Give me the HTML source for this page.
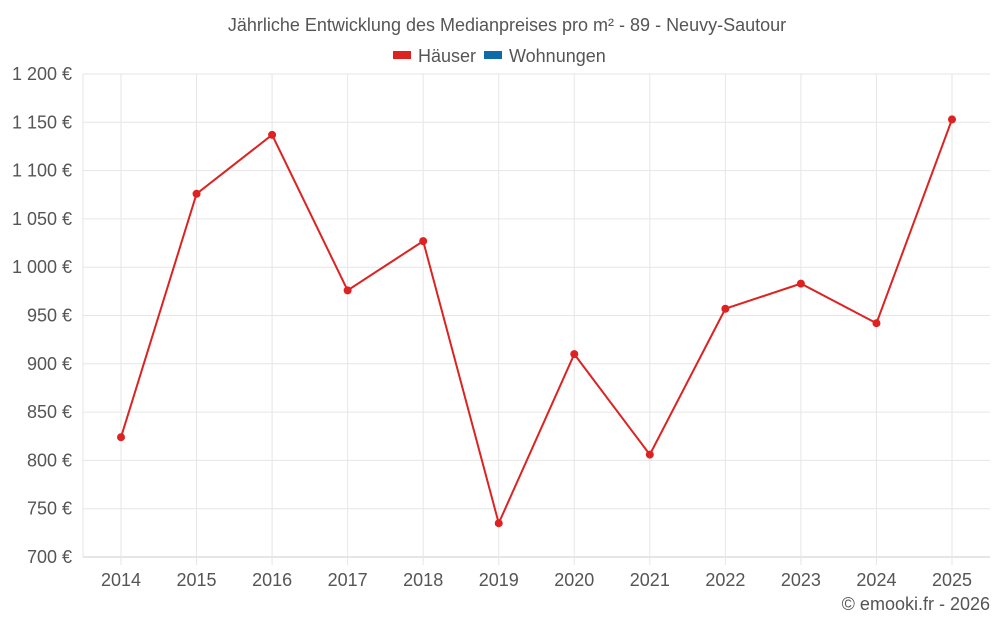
<!DOCTYPE html>
<html><head><meta charset="utf-8"><style>
body{margin:0;background:#fff;font-family:"Liberation Sans",sans-serif;}
svg text{font-family:"Liberation Sans",sans-serif;fill:#555;}
</style></head><body>
<svg width="1000" height="625">
<text x="507" y="31" text-anchor="middle" font-size="18">Jährliche Entwicklung des Medianpreises pro m² - 89 - Neuvy-Sautour</text>
<g>
<g><rect x="393" y="51" width="18" height="8" fill="#dd2222"/><text x="418" y="62" font-size="18">Häuser</text></g>
<g><rect x="484" y="51" width="18" height="8" fill="#0f6aa8"/><text x="509" y="62" font-size="18">Wohnungen</text></g>
</g>
<g id="grid"></g><g id="axes"></g><g id="series"></g>
<text x="990" y="610" text-anchor="end" font-size="18">© emooki.fr - 2026</text>
</svg>
<script>
const years=["2014","2015","2016","2017","2018","2019","2020","2021","2022","2023","2024","2025"];
const houses=[824,1076,1137,976,1027,735,910,806,957,983,942,1153];
const yTicks=[700,750,800,850,900,950,1000,1050,1100,1150,1200];
const yTickLabels=["700 €","750 €","800 €","850 €","900 €","950 €","1 000 €","1 050 €","1 100 €","1 150 €","1 200 €"];
const NS="http://www.w3.org/2000/svg";
const L=83,R=990,T=74,B=557;
const x=i=>121+i*(952-121)/(years.length-1);
const y=v=>B-(v-700)/500*(B-T);
function mk(t,a,p){const e=document.createElementNS(NS,t);for(const k in a)e.setAttribute(k,a[k]);p.appendChild(e);return e;}
const g=document.getElementById('grid'),ax=document.getElementById('axes'),s=document.getElementById('series');
let l=mk('line',{x1:L,x2:L,y1:T,y2:B,stroke:'#e6e6e6'},g);


yTicks.forEach((v,i)=>{
 const ln=mk('line',{x1:L,x2:R,y1:y(v),y2:y(v),stroke:i==0?'#ccc':'#e6e6e6'},g);
 
 
 const t=mk('text',{x:72,y:y(v)+6,'text-anchor':'end','font-size':18},ax);t.textContent=yTickLabels[i];
 
 
});
years.forEach((yr,i)=>{
 const ln=mk('line',{x1:x(i),x2:x(i),y1:T,y2:B+8,stroke:'#e6e6e6'},g);
 
 
 const t=mk('text',{x:x(i),y:586,'text-anchor':'middle','font-size':18},ax);t.textContent=yr;
 
 
});
const p=mk('polyline',{points:houses.map((v,i)=>x(i)+','+y(v)).join(' '),fill:'none',stroke:'#dd2222','stroke-width':2},s);


houses.forEach((v,i)=>{
 const c=mk('circle',{cx:x(i),cy:y(v),r:4,fill:'#dd2222'},s);
 
 
});
</script>
</body></html>
